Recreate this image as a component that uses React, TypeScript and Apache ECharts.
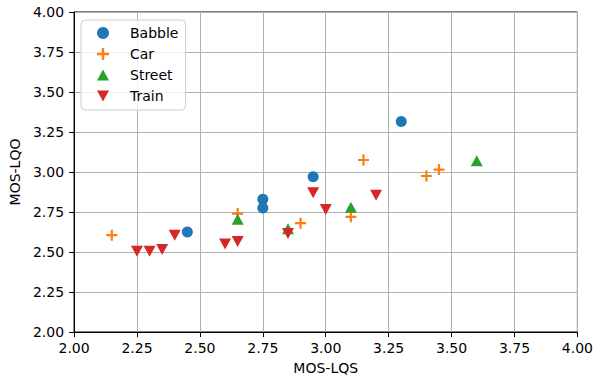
import React, { useEffect, useRef } from "react";
import * as echarts from "echarts";

const xTicks = ["2.00", "2.25", "2.50", "2.75", "3.00", "3.25", "3.50", "3.75", "4.00"];
const seriesNames = ["Babble", "Car", "Street", "Train"];
const babbleX = [2.45, 2.75, 2.75, 2.95, 3.3];
const babbleY = [2.625, 2.83, 2.775, 2.97, 3.315];
const carX = [2.15, 2.65, 2.9, 3.1, 3.15, 3.4, 3.45];
const carY = [2.605, 2.74, 2.68, 2.72, 3.075, 2.975, 3.015];
const streetX = [2.65, 2.85, 3.1, 3.6];
const streetY = [2.705, 2.645, 2.78, 3.07];
const trainX = [2.25, 2.3, 2.35, 2.4, 2.6, 2.65, 2.85, 2.95, 3.0, 3.2];
const trainY = [2.505, 2.505, 2.515, 2.605, 2.55, 2.565, 2.615, 2.87, 2.765, 2.855];

const colors = ["#1f77b4", "#ff7f0e", "#2ca02c", "#d62728"];
const PLUS = "path://M4,0H6V4H10V6H6V10H4V6H0V4H4Z";
const DOWN = "path://M0,0L10,0L5,9Z";
const UP = "path://M5,0L10,9L0,9Z";

const zip = (xs: number[], ys: number[]) => xs.map((x, i) => [x, ys[i]]);

export default function App() {
  const ref = useRef<HTMLDivElement>(null);
  useEffect(() => {
    if (!ref.current) return;
    const chart = echarts.init(ref.current, null, { renderer: "svg" });
    const font = "DejaVu Sans";
    const axisCommon = {
      min: 2,
      max: 4,
      interval: 0.25,
      axisLine: { show: true, onZero: false, lineStyle: { color: "#000", width: 1 } },
      axisTick: { show: true, inside: false, length: 5, lineStyle: { color: "#000", width: 1 } },
      axisLabel: {
        color: "#000",
        fontFamily: font,
        fontSize: 14,
        formatter: (v: number) => v.toFixed(2),
      },
      splitLine: { show: true, lineStyle: { color: "#b0b0b0", width: 1 } },
      nameTextStyle: { color: "#000", fontFamily: font, fontSize: 14 },
      nameLocation: "middle" as const,
    };
    const symbols = ["circle", PLUS, UP, DOWN];
    const sizes: any[] = [11, 11, [12, 11], [12, 11]];
    const data = [zip(babbleX, babbleY), zip(carX, carY), zip(streetX, streetY), zip(trainX, trainY)];
    chart.setOption({
      animation: false,
      color: colors,
      grid: {
        left: 73,
        top: 12,
        width: 507,
        height: 320,
        show: true,
        borderColor: "#000",
        borderWidth: 1,
        backgroundColor: "transparent",
      },
      xAxis: {
        type: "value",
        name: "MOS-LQS",
        nameGap: 29,
        ...axisCommon,
        axisLabel: { ...axisCommon.axisLabel, margin: 9 },
      },
      yAxis: {
        type: "value",
        name: "MOS-LQO",
        nameGap: 51,
        ...axisCommon,
        axisLabel: { ...axisCommon.axisLabel, margin: 10 },
      },
      legend: {
        orient: "vertical",
        left: 81,
        top: 20,
        data: seriesNames,
        itemWidth: 12,
        itemHeight: 12,
        itemGap: 7,
        padding: [6, 7, 7, 16],
        backgroundColor: "rgba(255,255,255,0.8)",
        borderColor: "#cccccc",
        borderWidth: 1,
        borderRadius: 4,
        textStyle: {
          color: "#000",
          fontFamily: font,
          fontSize: 14,
          lineHeight: 14,
          padding: [0, 0, 0, 16],
        },
      },
      series: seriesNames.map((name, i) => ({
        name,
        type: "scatter",
        symbol: symbols[i],
        symbolSize: sizes[i],
        data: data[i],
        itemStyle: { color: colors[i], opacity: 1 },
        emphasis: { disabled: true },
      })),
    });
    return () => chart.dispose();
  }, []);
  return (
    <div
      ref={ref}
      style={{ position: "fixed", left: 0, top: 0, width: 596, height: 380, background: "#fff" }}
    />
  );
}
